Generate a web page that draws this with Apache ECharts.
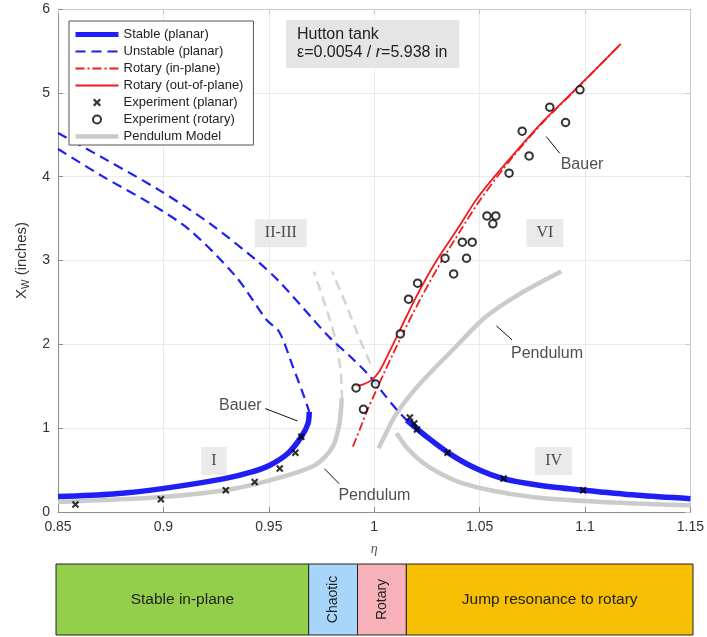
<!DOCTYPE html>
<html><head><meta charset="utf-8">
<script src="https://cdn.jsdelivr.net/npm/echarts@6/dist/echarts.min.js"></script>
<style>html,body{margin:0;padding:0;background:#fff}#c{width:707px;height:637px}</style>
</head><body><div id="c"></div>
<script>
// ---------- data ----------
const xTickLabels = ['0.85','0.9','0.95','1','1.05','1.1','1.15'];
const yTickLabels = ['0','1','2','3','4','5','6'];

const stableLeft = [[0.85,0.185],[0.876,0.215],[0.8994,0.279],[0.929,0.398],[0.942,0.478],[0.9505,0.558],[0.959,0.697],[0.9654,0.896],[0.9686,1.056],[0.9692,1.195]];
const stableRight = [[1.0154,1.096],[1.025,0.896],[1.0357,0.697],[1.0484,0.518],[1.0612,0.398],[1.0782,0.319],[1.0995,0.259],[1.125,0.199],[1.15,0.159]];
const unstableUpper = [[0.85,4.52],[0.873,4.20],[0.898,3.84],[0.9218,3.445],[0.9439,3.007],[0.9549,2.75],[0.9706,2.31],[0.9785,2.09],[0.988,1.87],[0.9974,1.635],[1.0037,1.436],[1.0101,1.237],[1.0154,1.096]];
const unstableFold = [[0.85,4.33],[0.8714,4.00],[0.8935,3.684],[0.9124,3.365],[0.9344,2.808],[0.949,2.29],[0.9549,2.15],[0.9612,1.75],[0.9667,1.38],[0.9692,1.195]];
const rotaryInPlane = [[0.9899,0.78],[0.9931,0.98],[0.9965,1.20],[1.0006,1.43],[1.0045,1.65],[1.0090,1.89],[1.0140,2.15],[1.0215,2.52],[1.0305,2.93],[1.0410,3.36],[1.0505,3.73],[1.0652,4.22],[1.0809,4.67],[1.0967,5.065],[1.1160,5.56]];
const rotaryOutPlane = [[0.9910,1.50],[0.9945,1.52],[0.9985,1.57],[1.0025,1.68],[1.0070,1.90],[1.0124,2.18],[1.0200,2.57],[1.0289,2.97],[1.0399,3.39],[1.0494,3.76],[1.0652,4.24],[1.0809,4.68],[1.0967,5.07],[1.1170,5.585]];
const expPlanar = [[0.8583,0.088],[0.8988,0.152],[0.9296,0.259],[0.9433,0.358],[0.9552,0.518],[0.9626,0.708],[0.9654,0.899],[1.0169,1.126],[1.0190,1.055],[1.0203,0.983],[1.0348,0.708],[1.0614,0.399],[1.0991,0.259]];
const expRotary = [[0.9914,1.48],[0.9949,1.225],[1.0006,1.527],[1.0124,2.124],[1.0163,2.538],[1.0206,2.729],[1.0336,3.027],[1.0377,2.84],[1.0418,3.218],[1.0438,3.027],[1.0465,3.218],[1.0535,3.532],[1.0563,3.437],[1.0577,3.532],[1.064,4.042],[1.0702,4.543],[1.0735,4.248],[1.0833,4.829],[1.0908,4.646],[1.0976,5.036]];
const pendulumLeft = [[0.85,0.12],[0.8994,0.179],[0.929,0.259],[0.9505,0.378],[0.9718,0.558],[0.9803,0.777],[0.9835,1.056],[0.9846,1.355]];
const pendulumUnstableA = [[0.9848,1.337],[0.984,1.695],[0.9817,2.053],[0.977,2.45],[0.9714,2.868]];
const pendulumUnstableB = [[0.9982,1.77],[0.9927,2.09],[0.9864,2.49],[0.980,2.868]];
const pendulumRight = [[1.0106,0.94],[1.0158,0.76],[1.0225,0.60],[1.0305,0.47],[1.0400,0.36],[1.055,0.26],[1.075,0.18],[1.1,0.13],[1.125,0.10],[1.15,0.08]];
const pendulumRotary = [[1.0021,0.76],[1.006,0.96],[1.010,1.15],[1.0179,1.42],[1.0258,1.64],[1.0391,1.98],[1.0525,2.32],[1.0683,2.59],[1.0887,2.868]];

const regionNames = ['I','II-III','IV','VI'];
const regionPos = [[0.924,0.609],[0.9557,3.326],[1.0851,0.609],[1.081,3.329]];
const noteNames = ['Bauer','Bauer','Pendulum','Pendulum'];
const notePos = [[0.9365,1.265],[1.0986,4.149],[1.0001,0.197],[1.082,1.894]];
const arrowFrom = [[0.9483,1.234],[1.088,4.28],[0.9834,0.337],[1.0654,2.053]];
const arrowTo = [[0.9636,1.086],[1.0816,4.479],[0.9764,0.516],[1.058,2.22]];

const bandNames = ['Stable in-plane','Chaotic','Rotary','Jump resonance to rotary'];
const bandEdges = [0.85,0.969,0.992,1.015,1.15];

const legendNames = ['Stable (planar)','Unstable (planar)','Rotary (in-plane)','Rotary (out-of-plane)','Experiment (planar)','Experiment (rotary)','Pendulum Model'];

// ---------- styles ----------
const FONT = '"Liberation Sans", Arial, Helvetica, sans-serif';
const SERIF = '"Liberation Serif", "Times New Roman", serif';
const BLUE = '#1f1ff5', RED = '#f21b1b', GRAY = '#cbcbcb', GRAYD = '#d4d4d4';
const bandColors = ['#93cf4b','#a8d6fb','#f6b1b9','#f7bf02'];
const bandVertical = [false,true,true,false];
const legendLineWidth = [5, 2.2, 1.8, 1.8, 0, 0, 4.5];
const crossPath = 'path://M0,2L2,0L5,3L8,0L10,2L7,5L10,8L8,10L5,7L2,10L0,8L3,5Z';

function lineSeries(name, data, color, width, type, z) {
  return {
    type: 'line', name, data, xAxisIndex: 0, yAxisIndex: 0,
    symbol: 'none', smooth: 0.3, z,
    lineStyle: { color, width, type, cap: 'butt' },
    itemStyle: { color },
    emphasis: { disabled: true }, silent: true
  };
}

const axisCol = '#8c8c8c';
const option = {
  animation: false,
  backgroundColor: '#fff',
  textStyle: { fontFamily: FONT },
  title: {
    text: '{a|Hutton tank}\n{a|\u03b5=0.0054 / }{i|r}{a|=5.938 in}',
    left: 286, top: 19, padding: [7, 12, 7, 11],
    backgroundColor: '#e5e5e5',
    textStyle: { fontWeight: 'normal', rich: {
      a: { fontSize: 16, lineHeight: 18, color: '#222', fontFamily: FONT, fontWeight: 'normal' },
      i: { fontSize: 16, lineHeight: 18, color: '#222', fontFamily: FONT, fontStyle: 'italic', fontWeight: 'normal' }
    } }
  },
  legend: {
    orient: 'vertical', left: 69, top: 21,
    padding: [7, 10, 2, 4],
    itemWidth: 43, itemHeight: 8, itemGap: 4,
    backgroundColor: '#fff', borderColor: '#555', borderWidth: 1,
    textStyle: { fontSize: 13, color: '#222', lineHeight: 12, fontFamily: FONT },
    data: legendNames.map((n, i) => legendLineWidth[i] > 0
      ? { name: n, itemStyle: { opacity: 0 }, lineStyle: { width: legendLineWidth[i] } }
      : { name: n }),
    selectedMode: false
  },
  grid: [
    { left: 58, right: 14, top: 9, bottom: 125 },
    { left: 56, right: 14, top: 564, height: 71 }
  ],
  xAxis: [
    { type: 'value', gridIndex: 0, min: 0.85, max: 1.15, interval: 0.05, position: 'bottom',
      axisLine: { show: true, lineStyle: { color: axisCol } },
      axisTick: { show: true, inside: true, length: 5, lineStyle: { color: axisCol } },
      axisLabel: { formatter: (v, i) => xTickLabels[i], fontSize: 14, color: '#333', margin: 8 },
      splitLine: { show: true, lineStyle: { color: '#ebebeb' } },
      name: '\u03b7', nameLocation: 'middle', nameGap: 30,
      nameTextStyle: { fontStyle: 'italic', fontSize: 14, color: '#555', fontFamily: SERIF } },
    { type: 'value', gridIndex: 0, min: 0.85, max: 1.15, interval: 0.05, position: 'top',
      axisLine: { show: true, onZero: false, lineStyle: { color: '#c8c8c8' } },
      axisTick: { show: true, inside: true, length: 5, lineStyle: { color: '#c8c8c8' } },
      axisLabel: { show: false }, splitLine: { show: false } },
    { type: 'value', gridIndex: 1, min: 0.85, max: 1.15, show: false }
  ],
  yAxis: [
    { type: 'value', gridIndex: 0, min: 0, max: 6, interval: 1, position: 'left',
      axisLine: { show: true, lineStyle: { color: axisCol } },
      axisTick: { show: true, inside: true, length: 5, lineStyle: { color: axisCol } },
      axisLabel: { formatter: (v, i) => yTickLabels[i], fontSize: 14, color: '#333', margin: 8 },
      splitLine: { show: true, lineStyle: { color: '#ebebeb' } },
      name: '{a|X}{s|W}{a| (inches)}', nameLocation: 'middle', nameGap: 25, nameRotate: 90,
      nameTextStyle: { rich: {
        a: { fontSize: 15, color: '#333', fontFamily: FONT },
        s: { fontSize: 10, color: '#333', fontFamily: FONT, padding: [9, 0, 0, 0] }
      } } },
    { type: 'value', gridIndex: 0, min: 0, max: 6, interval: 1, position: 'right',
      axisLine: { show: true, onZero: false, lineStyle: { color: '#c8c8c8' } },
      axisTick: { show: true, inside: true, length: 5, lineStyle: { color: '#c8c8c8' } },
      axisLabel: { show: false }, splitLine: { show: false } },
    { type: 'value', gridIndex: 1, min: 0, max: 1, show: false }
  ],
  series: [
    lineSeries('Stable (planar)', stableLeft, BLUE, 5.5, 'solid', 4),
    lineSeries('Stable (planar)', stableRight, BLUE, 5.5, 'solid', 4),
    lineSeries('Unstable (planar)', unstableUpper, BLUE, 2.2, [10, 6], 2),
    lineSeries('Unstable (planar)', unstableFold, BLUE, 2.2, [10, 6], 2),
    lineSeries('Rotary (in-plane)', rotaryInPlane, RED, 1.8, [9, 3, 2, 3], 3),
    lineSeries('Rotary (out-of-plane)', rotaryOutPlane, RED, 1.8, 'solid', 3),
    lineSeries('Pendulum Model', pendulumLeft, GRAY, 4.5, 'solid', 1),
    lineSeries('Pendulum Model', pendulumRight, GRAY, 4.5, 'solid', 1),
    lineSeries('Pendulum Model', pendulumRotary, GRAY, 4.5, 'solid', 1),
    lineSeries('Pendulum Model', pendulumUnstableA, GRAYD, 2.5, [10, 6], 1),
    lineSeries('Pendulum Model', pendulumUnstableB, GRAYD, 2.5, [10, 6], 1),
    { type: 'scatter', name: 'Experiment (planar)', data: expPlanar, xAxisIndex: 0, yAxisIndex: 0,
      symbol: crossPath, symbolSize: 7.5, z: 6, itemStyle: { color: '#000' },
      emphasis: { disabled: true }, silent: true },
    { type: 'scatter', name: 'Experiment (rotary)', data: expRotary, xAxisIndex: 0, yAxisIndex: 0,
      symbol: 'emptyCircle', symbolSize: 7.5, z: 6,
      itemStyle: { color: '#000', borderColor: '#000', borderWidth: 2 },
      emphasis: { disabled: true }, silent: true },
    { type: 'scatter', name: 'regions', data: regionPos.map((p, i) => ({ value: p, label: { formatter: regionNames[i] } })),
      xAxisIndex: 0, yAxisIndex: 0, symbolSize: 0, z: 7, silent: true,
      label: { show: true, position: 'inside', fontFamily: SERIF, fontSize: 16, color: '#222',
        backgroundColor: '#e5e5e5', padding: [6, 10, 6, 10] } },
    { type: 'scatter', name: 'notes', data: notePos.map((p, i) => ({ value: p, label: { formatter: noteNames[i] } })),
      xAxisIndex: 0, yAxisIndex: 0, symbolSize: 0, z: 7, silent: true,
      label: { show: true, position: 'inside', fontFamily: FONT, fontSize: 16, color: '#222' },
      markLine: { silent: true, symbol: ['none', 'arrow'], symbolSize: [0, 7],
        lineStyle: { color: '#111', width: 1, type: 'solid' }, label: { show: false },
        data: arrowFrom.map((f, i) => [{ coord: f }, { coord: arrowTo[i] }]) } },
    { type: 'custom', name: 'bands', xAxisIndex: 2, yAxisIndex: 2, silent: true,
      data: bandNames.map((n, i) => [bandEdges[i], bandEdges[i + 1], i]),
      renderItem: function (params, api) {
        const i = api.value(2);
        const p0 = api.coord([api.value(0), 0]);
        const p1 = api.coord([api.value(1), 1]);
        const vert = bandVertical[i];
        return { type: 'group', children: [
          { type: 'rect', shape: { x: p0[0], y: p1[1], width: p1[0] - p0[0], height: p0[1] - p1[1] },
            style: { fill: bandColors[i], stroke: '#222', lineWidth: 1 } },
          { type: 'text', x: (p0[0] + p1[0]) / 2, y: (p0[1] + p1[1]) / 2, rotation: vert ? Math.PI / 2 : 0,
            style: { text: bandNames[i], fontSize: vert ? 14 : 15.5, fontFamily: FONT, fill: '#222',
              align: 'center', verticalAlign: 'middle' } }
        ] };
      } }
  ]
};
const chart = echarts.init(document.getElementById('c'), null, { renderer: 'canvas' });
chart.setOption(option);
</script></body></html>
